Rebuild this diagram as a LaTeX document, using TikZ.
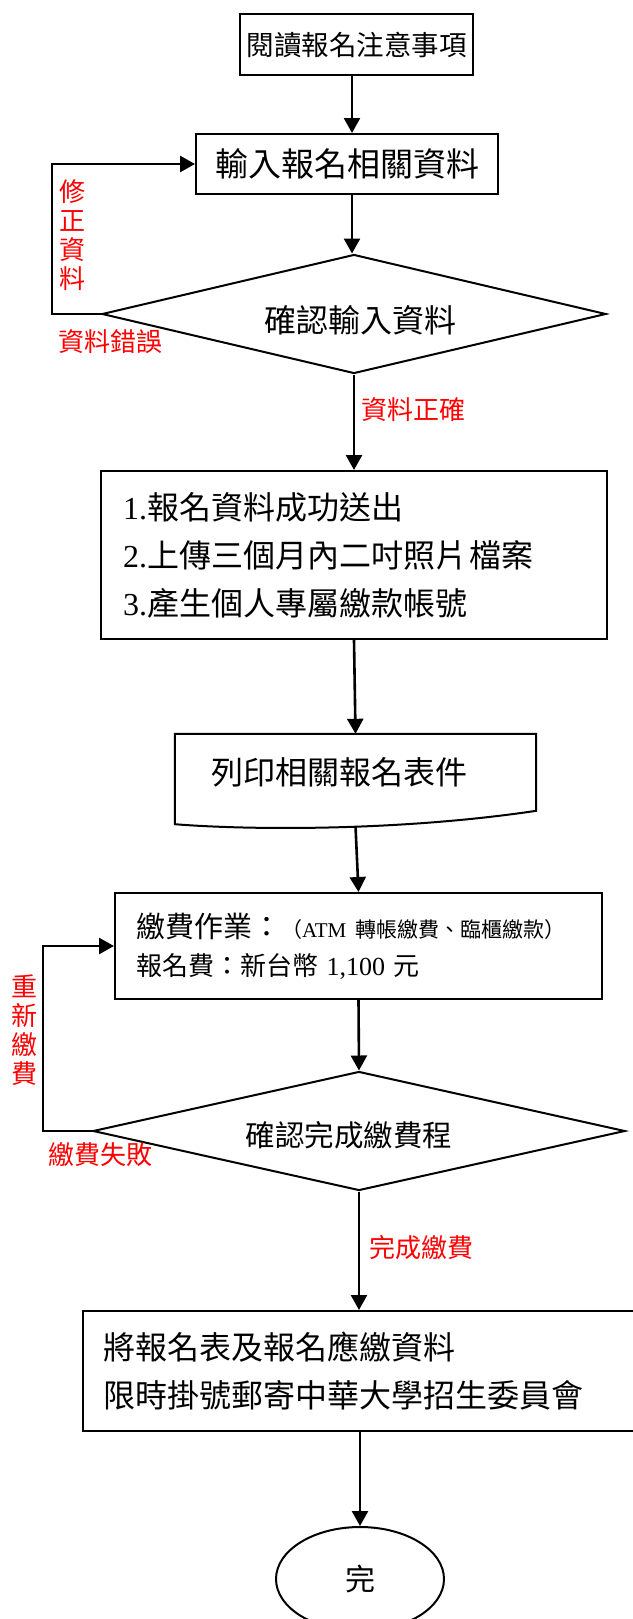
\documentclass[tikz,border=0pt]{standalone}
\usepackage{fontspec}
\setmainfont{Liberation Serif}
\newfontfamily\cjk{Noto Sans CJK TC}
\usetikzlibrary{arrows.meta,shapes.geometric,calc}
\newcommand\fsz[1]{\fontsize{#1}{#1}\selectfont}
\begin{document}
\begin{tikzpicture}[x=1pt,y=-1pt,
  box/.style={draw,line width=2pt,inner sep=0pt,rectangle},
  dia/.style={draw,diamond,line width=2pt,inner sep=0pt},
  arr/.style={line width=2.6pt,-{Triangle[length=15pt,width=16pt]}},
  lbl/.style={text=red,inner sep=0pt,font=\cjk\fsz{26}},
  vlbl/.style={text=red,inner sep=0pt,align=center,font=\cjk\fontsize{26}{29}\selectfont},
 ]
\useasboundingbox (0,0) rectangle (632,1619);

% nodes
\node[box,minimum width=233,minimum height=61,font=\cjk\fsz{27.5}] (b1) at (356.5,44.5) {閱讀報名注意事項};
\node[box,minimum width=302,minimum height=60,font=\cjk\fsz{33}] (b2) at (347,164) {輸入報名相關資料};
\node[dia,shape aspect=4.235,minimum width=504,minimum height=119] (d1) at (354,314) {};
\node[inner sep=0pt,font=\cjk\fsz{32}] (d1t) at (360,320) {確認輸入資料};
\node[box,minimum width=506,minimum height=168,text width=462,inner xsep=22,align=left,
      font=\cjk\fontsize{32}{48}\selectfont] (b3) at (354,555)
  {{\rmfamily 1.}報名資料成功送出\\{\rmfamily 2.}上傳三個月內二吋照片\hspace{3pt}檔案\\{\rmfamily 3.}產生個人專屬繳款帳號};
\node[inner sep=0pt,minimum width=361,minimum height=92] (doc) at (355.5,780) {};
\node[inner sep=0pt,font=\cjk\fsz{32}] (doct) at (339,772) {列印相關報名表件};
\draw[line width=2pt] (doc.north west) -- (doc.north east) -- ($(doc.north east)+(0,77)$)
  .. controls ($(doc.south west)+(225,5)$) and ($(doc.south west)+(75,4)$) .. ($(doc.south west)+(0,-2)$) -- cycle;
\node[box,minimum width=487,minimum height=106,text width=445,inner xsep=21,align=left,
      font=\cjk\fontsize{26}{38}\selectfont] (b4) at (358.5,946)
  {{\fsz{29}繳費作業：}{\fsz{21}（{\rmfamily ATM} 轉帳繳費、臨櫃繳款）}\\報名費：新台幣 {\rmfamily 1,100} 元};
\node[dia,shape aspect=4.47,minimum width=532,minimum height=119] (d2) at (359,1131) {};
\node[inner sep=0pt,font=\cjk\fsz{29.5}] (d2t) at (349,1135) {確認完成繳費程};
\node[box,minimum width=560,minimum height=120,text width=520,inner xsep=20,align=left,
      font=\cjk\fontsize{32}{48}\selectfont] (b5) at (363,1371)
  {將報名表及報名應繳資料\\限時掛號郵寄中華大學招生委員會};
\node[draw,ellipse,line width=2pt,minimum width=168,minimum height=104,inner sep=0pt,font=\cjk\fsz{30}] (e) at (360,1579) {完};

% labels
\node[vlbl] (t1) at (72,235) {修\\正\\資\\料};
\node[lbl] (t2) at (110,342) {資料錯誤};
\node[lbl] (t3) at (413,410) {資料正確};
\node[vlbl] (t4) at (25,1030) {重\\新\\繳\\費};
\node[lbl] (t5) at (100,1155) {繳費失敗};
\node[lbl] (t6) at (421,1248) {完成繳費};

% connectors
\coordinate (c1) at (352,0);
\coordinate (l1) at (52,0);
\coordinate (l2) at (43,0);
\draw[arr] (b1.south -| c1) -- (b2.north -| c1);
\draw[arr] (b2.south -| c1) -- (d1.north -| c1);
\draw[arr] (d1.south) -- (d1.south |- b3.north);
\draw[arr] (b3.south) -- (doc.north);
\draw[arr] (doc.south) -- (b4.north);
\draw[arr] (b4.south) -- (d2.north);
\draw[arr] (d2.south) -- (d2.south |- b5.north);
\draw[arr] (e.north |- b5.south) -- (e.north);
\draw[arr] (d1.west) -- (d1.west -| l1) |- (b2.west);
\draw[arr] (d2.west) -- (d2.west -| l2) |- (b4.west);
\end{tikzpicture}
\end{document}
